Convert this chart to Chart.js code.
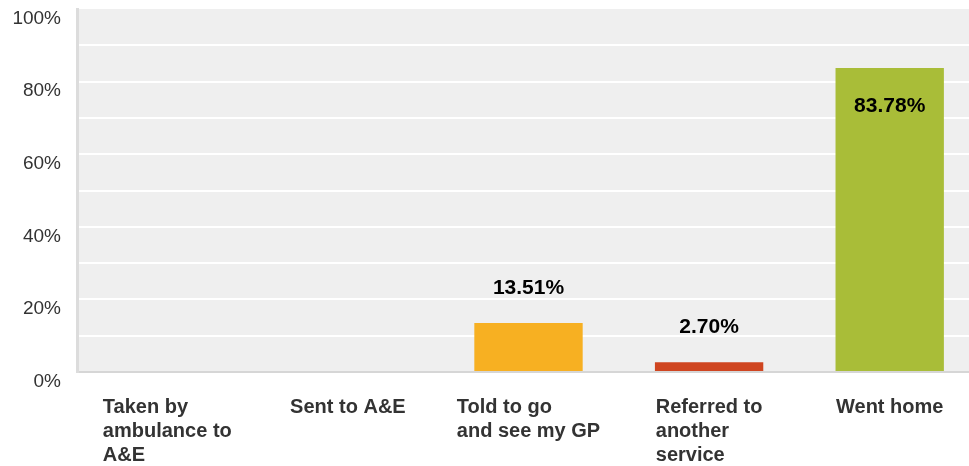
<!DOCTYPE html>
<html>
<head>
<meta charset="utf-8">
<script src="https://cdn.jsdelivr.net/npm/chart.js@4/dist/chart.umd.min.js"></script>
<style>
  html, body { margin: 0; padding: 0; background: #fff; overflow: hidden; }
  #wrap { width: 969px; height: 466px; overflow: hidden; }
</style>
</head>
<body>
<div id="wrap"><canvas id="outcomeChart" width="980" height="466"></canvas></div>
<script>
// chart data
const categories = [
    ['Taken by', 'ambulance to', 'A&E'],
    ['Sent to A&E'],
    ['Told to go', 'and see my GP'],
    ['Referred to', 'another', 'service'],
    ['Went home']
];
const percentValues = [0, 0, 13.51, 2.70, 83.78];
const barColors = ['#2e8bc0', '#6dc2c9', '#f7b022', '#cf4520', '#a9bd38'];
const yTickLabels = [0, 20, 40, 60, 80, 100];

const FONT = '"Liberation Sans", Arial, sans-serif';

// grey plot background
const plotBackground = {
    id: 'plotBackground',
    beforeDraw(chart) {
        const a = chart.chartArea;
        const c = chart.ctx;
        c.save();
        c.fillStyle = '#efefef';
        c.fillRect(a.left, a.top, a.right - a.left, a.bottom - a.top);
        c.restore();
    }
};

// category labels : block centred on the category, lines left aligned
const categoryLabels = {
    id: 'categoryLabels',
    afterDraw(chart) {
        const c = chart.ctx;
        const xScale = chart.scales.x;
        c.save();
        c.font = 'bold 20px ' + FONT;
        c.fillStyle = '#333333';
        c.textAlign = 'left';
        c.textBaseline = 'middle';
        chart.data.labels.forEach((lines, i) => {
            let maxW = 0;
            lines.forEach(l => { maxW = Math.max(maxW, c.measureText(l).width); });
            const x0 = xScale.getPixelForValue(i) - maxW / 2;
            lines.forEach((l, j) => {
                c.fillText(l, x0, chart.chartArea.bottom + 35 + j * 24);
            });
        });
        c.restore();
    }
};

// value labels above small bars, inside the big one
const valueLabels = {
    id: 'valueLabels',
    afterDatasetsDraw(chart) {
        const c = chart.ctx;
        const meta = chart.getDatasetMeta(0);
        const data = chart.data.datasets[0].data;
        c.save();
        c.font = 'bold 21px ' + FONT;
        c.fillStyle = '#000000';
        c.textAlign = 'center';
        c.textBaseline = 'middle';
        meta.data.forEach((bar, i) => {
            const v = data[i];
            if (v <= 0) return;
            const y = v > 50 ? bar.y + 38 : bar.y - 35;
            c.fillText(v.toFixed(2) + '%', bar.x, y);
        });
        c.restore();
    }
};

const ctx = document.querySelector('#outcomeChart').getContext('2d');
const chart = new Chart(ctx, {
    type: 'bar',
    data: {
        labels: categories,
        datasets: [{
            data: percentValues,
            backgroundColor: barColors,
            borderWidth: 0,
            barPercentage: 0.6,
            categoryPercentage: 1.0
        }]
    },
    options: {
        responsive: false,
        animation: false,
        layout: { padding: { top: 9, right: 0, left: 0, bottom: 0 } },
        plugins: {
            legend: { display: false },
            tooltip: { enabled: false }
        },
        scales: {
            x: {
                grid: { display: false },
                border: { display: false },
                ticks: { display: false },
                afterFit(scale) { scale.height = 94; }
            },
            y: {
                min: 0,
                max: 100,
                afterFit(scale) { scale.width = 77; },
                border: { color: '#dcdcdc', width: 3 },
                grid: {
                    lineWidth: 2,
                    drawTicks: true,
                    tickLength: 16,
                    tickColor: 'rgba(0,0,0,0)',
                    color: (c) => {
                        const v = c.tick ? c.tick.value : null;
                        if (v === 0) return '#d6d6d6';
                        if (v === 100) return 'rgba(0,0,0,0)';
                        return '#ffffff';
                    }
                },
                ticks: {
                    stepSize: 10,
                    align: 'start',
                    padding: 0,
                    color: '#333333',
                    font: { family: FONT, size: 19 },
                    callback: (v) => yTickLabels.includes(v) ? v + '%' : ''
                }
            }
        }
    },
    plugins: [plotBackground, categoryLabels, valueLabels]
});
</script>
</body>
</html>
